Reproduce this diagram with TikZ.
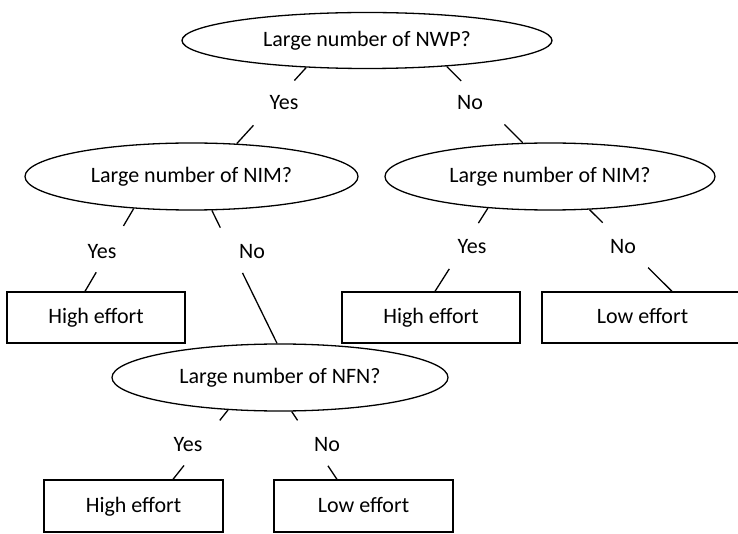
\documentclass[tikz,border=0pt]{standalone}
\usepackage{fontspec}
\setmainfont{Carlito}
\usetikzlibrary{shapes.geometric,calc}

% a connector broken in the middle where its answer label sits
\newcommand{\brokenlink}[4]{%
  \draw[link] (#1) -- ($(#1)!#3!(#2)$);
  \draw[link] ($(#1)!#4!(#2)$) -- (#2);}

\begin{document}
\begin{tikzpicture}[x=1pt,y=-1pt,
  every node/.style={font=\fontsize{22}{26}\selectfont, text=black},
  question/.style={ellipse, draw, line width=1.3pt, inner sep=0pt},
  outcome/.style={rectangle, draw, line width=1.3pt, inner sep=0pt,
                  text height=16pt, text depth=3.4pt,
                  minimum width=178pt, minimum height=51pt},
  answer/.style={inner sep=0pt},
  link/.style={line width=1.3pt}]
\useasboundingbox (0,0) rectangle (738,534);

% decision questions
\node[question, minimum width=370pt, minimum height=56pt] (nwp)  at (367,40.5)   {Large number of NWP?};
\node[question, minimum width=333pt, minimum height=67pt] (nimL) at (191.5,176.5) {Large number of NIM?};
\node[question, minimum width=330pt, minimum height=67pt] (nimR) at (550,176.5)   {Large number of NIM?};
\node[question, minimum width=336pt, minimum height=67pt] (nfn)  at (280,377.5)   {Large number of NFN?};

% outcomes (the right-hand one runs past the page edge)
\node[outcome] (heL) at (96,317.5)  {High effort};
\node[outcome] (heR) at (431,317.5) {High effort};
\node[outcome, minimum width=201pt] (leR) at (642.5,317.5) {Low effort};
\node[outcome, minimum width=179pt, minimum height=52pt] (heB) at (133.5,506) {High effort};
\node[outcome, minimum width=179pt, minimum height=52pt] (leB) at (363.5,506) {Low effort};

% answer labels
\node[answer] (a1) at (284,103) {Yes};
\node[answer] (a2) at (470,103) {No};
\node[answer] (a3) at (102,252) {Yes};
\node[answer] (a4) at (252,252) {No};
\node[answer] (a5) at (472,247) {Yes};
\node[answer] (a6) at (623,247) {No};
\node[answer] (a7) at (188,445) {Yes};
\node[answer] (a8) at (327,445) {No};

% attachment points on the box tops
\coordinate (heLtop) at ([xshift=-11pt]heL.north);
\coordinate (heRtop) at ([xshift=4pt]heR.north);
\coordinate (leRtop) at ([xshift=29.5pt]leR.north);
\coordinate (heBtop) at ([xshift=39.5pt]heB.north);
\coordinate (leBtop) at ([xshift=-26.5pt]leB.north);

% connectors
\brokenlink{nwp.204.7}{nimL.36.6}{0.17}{0.76}
\brokenlink{nwp.342.8}{nimR.129.25}{0.19}{0.76}
\brokenlink{nimL.209.1}{heLtop}{0.21}{0.77}
\brokenlink{nimL.301.7}{nfn.95.1}{0.13}{0.47}
\brokenlink{nimR.207.5}{heRtop}{0.18}{0.73}
\brokenlink{nimR.320.9}{leRtop}{0.16}{0.71}
\brokenlink{nfn.212.6}{heBtop}{0.15}{0.80}
\brokenlink{nfn.289.8}{leBtop}{0.13}{0.80}
\end{tikzpicture}
\end{document}
